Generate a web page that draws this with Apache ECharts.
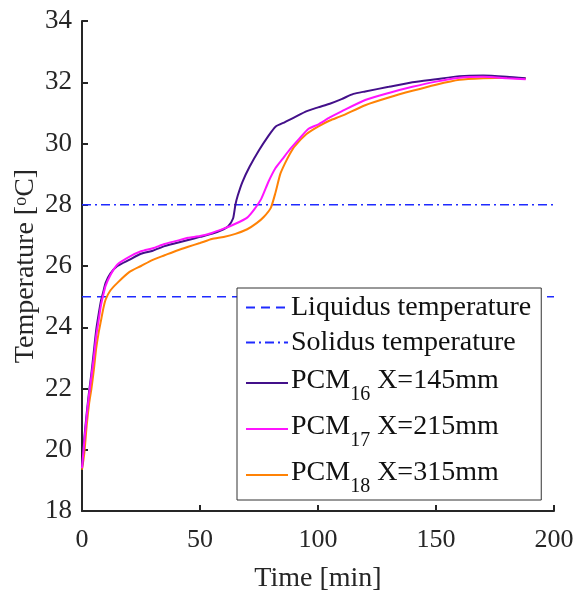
<!DOCTYPE html>
<html>
<head>
<meta charset="utf-8">
<script src="https://cdn.jsdelivr.net/npm/echarts@6/dist/echarts.min.js"></script>
<style>html,body{margin:0;padding:0;background:#fff;}#c{width:576px;height:590px;}</style>
</head>
<body>
<div id="c"></div>
<script>
const xTicks = [0, 50, 100, 150, 200];
const yTicks = [18, 20, 22, 24, 26, 28, 30, 32, 34];
const liquidusT = 25;
const solidusT = 28;
const pcm16Time = [0,1,2,3,4,5,6,7,8,9,10,12,15,20,25,30,35,40,45,50,55,60,62,64,65,66,68,71,75,79,82,86,90,95,100,105,110,115,120,130,140,150,160,170,180,188];
const pcm16Temp = [19.4,20.4,21.2,21.9,22.5,23.2,23.9,24.4,24.85,25.15,25.45,25.75,26.0,26.2,26.4,26.5,26.65,26.75,26.85,26.95,27.05,27.2,27.3,27.55,28.0,28.3,28.75,29.24,29.78,30.25,30.55,30.7,30.85,31.05,31.18,31.3,31.45,31.62,31.7,31.85,32.0,32.1,32.2,32.22,32.18,32.13];
const pcm17Time = [0,1,2,3,4,5,6,7,8,9,10,12,15,20,25,30,35,40,45,50,55,60,65,70,73,76,79,82,85,88,92,96,100,105,110,120,130,140,150,160,170,180,188];
const pcm17Temp = [19.4,20.3,21.1,21.8,22.4,23.0,23.7,24.2,24.7,25.05,25.35,25.7,26.05,26.3,26.48,26.58,26.72,26.82,26.92,26.98,27.08,27.22,27.38,27.58,27.85,28.2,28.75,29.2,29.5,29.8,30.15,30.48,30.62,30.85,31.05,31.42,31.65,31.85,32.02,32.15,32.18,32.13,32.1];
const pcm18Time = [0,1,2,3,4,5,6,7,8,9,10,12,15,20,25,30,35,40,45,50,55,60,65,70,74,77,80,82,84,86,88,90,95,100,105,110,120,130,140,150,160,170,180,188];
const pcm18Temp = [19.35,19.9,20.8,21.5,22.0,22.6,23.3,23.8,24.2,24.6,24.9,25.2,25.45,25.8,26.0,26.2,26.35,26.5,26.63,26.75,26.88,26.95,27.05,27.2,27.4,27.6,27.9,28.4,29.0,29.35,29.65,29.9,30.3,30.55,30.75,30.9,31.25,31.5,31.72,31.92,32.08,32.13,32.15,32.12];
const seriesNames = ['Liquidus temperature','Solidus temperature','PCM16 X=145mm','PCM17 X=215mm','PCM18 X=315mm'];

const zip = (a, b) => a.map((v, i) => [v, b[i]]);
const font = '"Liberation Serif", "Times New Roman", serif';
const axisColor = '#262626';

const chart = echarts.init(document.getElementById('c'));
chart.setOption({
  animation: false,
  backgroundColor: '#fff',
  grid: { left: 82, right: 22, top: 21, bottom: 79, containLabel: false, outerBoundsMode: 'none' },
  xAxis: {
    type: 'value', min: 0, max: 200, interval: 50,
    name: 'Time [min]', nameLocation: 'middle', nameGap: 54, nameMoveOverlap: false,
    nameTextStyle: { fontFamily: font, fontSize: 28, color: axisColor },
    axisLine: { lineStyle: { color: axisColor, width: 2 } },
    axisTick: { inside: true, length: 6, lineStyle: { color: axisColor, width: 2 } },
    axisLabel: { fontFamily: font, fontSize: 26, color: axisColor, margin: 16,
      formatter: v => xTicks.includes(v) ? String(v) : '' },
    splitLine: { show: false }
  },
  yAxis: {
    type: 'value', min: 18, max: 34, interval: 2,
    name: 'Temperature [{sup|o}C]', nameLocation: 'middle', nameGap: 42, nameMoveOverlap: false,
    nameTextStyle: { fontFamily: font, fontSize: 28, color: axisColor,
      rich: { sup: { fontFamily: font, fontSize: 18, color: axisColor, verticalAlign: 'top', padding: [0,0,10,0] } } },
    axisLine: { lineStyle: { color: axisColor, width: 2 } },
    axisTick: { inside: true, length: 6, lineStyle: { color: axisColor, width: 2 } },
    axisLabel: { fontFamily: font, fontSize: 27, color: axisColor, margin: 10,
      formatter: v => yTicks.includes(v) ? String(v) : '' },
    splitLine: { show: false }
  },
  legend: {
    orient: 'vertical', left: 237, top: 288,
    padding: [3, 10, 3, 8], itemGap: 2, itemWidth: 42, itemHeight: 14,
    borderColor: '#333', borderWidth: 1, backgroundColor: '#fff',
    itemStyle: { opacity: 0 },
    data: seriesNames,
    formatter: n => {
      const m = n.match(/^PCM(\d+) (.*)$/);
      return m ? '{h|\u200b}{m|PCM}{sub|' + m[1] + '}{m| ' + m[2] + '}' : n;
    },
    textStyle: { fontFamily: font, fontSize: 28, lineHeight: 33, color: '#111', padding: [0,0,0,-2],
      rich: {
        h: { fontFamily: font, fontSize: 10, lineHeight: 44, width: 0 },
        m: { fontFamily: font, fontSize: 28, color: '#111', lineHeight: 30, verticalAlign: 'top', padding: [6,0,0,0] },
        sub: { fontFamily: font, fontSize: 20, color: '#111', lineHeight: 20, verticalAlign: 'bottom' }
      } }
  },
  series: [
    { name: seriesNames[0], type: 'line', symbol: 'none', z: 1,
      data: [[0, liquidusT], [200, liquidusT]],
      lineStyle: { color: '#1f2bff', width: 1.5, type: [9, 6] }, itemStyle: { color: '#1f2bff' } },
    { name: seriesNames[1], type: 'line', symbol: 'none', z: 1,
      data: [[0, solidusT], [200, solidusT]],
      lineStyle: { color: '#1f2bff', width: 1.5, type: [9, 4, 2, 4] }, itemStyle: { color: '#1f2bff' } },
    { name: seriesNames[2], type: 'line', symbol: 'none', smooth: 0.2, z: 3,
      data: zip(pcm16Time, pcm16Temp),
      lineStyle: { color: '#43108a', width: 2 }, itemStyle: { color: '#43108a' } },
    { name: seriesNames[3], type: 'line', symbol: 'none', smooth: 0.2, z: 4,
      data: zip(pcm17Time, pcm17Temp),
      lineStyle: { color: '#ff14ff', width: 2 }, itemStyle: { color: '#ff14ff' } },
    { name: seriesNames[4], type: 'line', symbol: 'none', smooth: 0.2, z: 2,
      data: zip(pcm18Time, pcm18Temp),
      lineStyle: { color: '#ff8205', width: 2 }, itemStyle: { color: '#ff8205' } }
  ]
});
</script>
</body>
</html>
